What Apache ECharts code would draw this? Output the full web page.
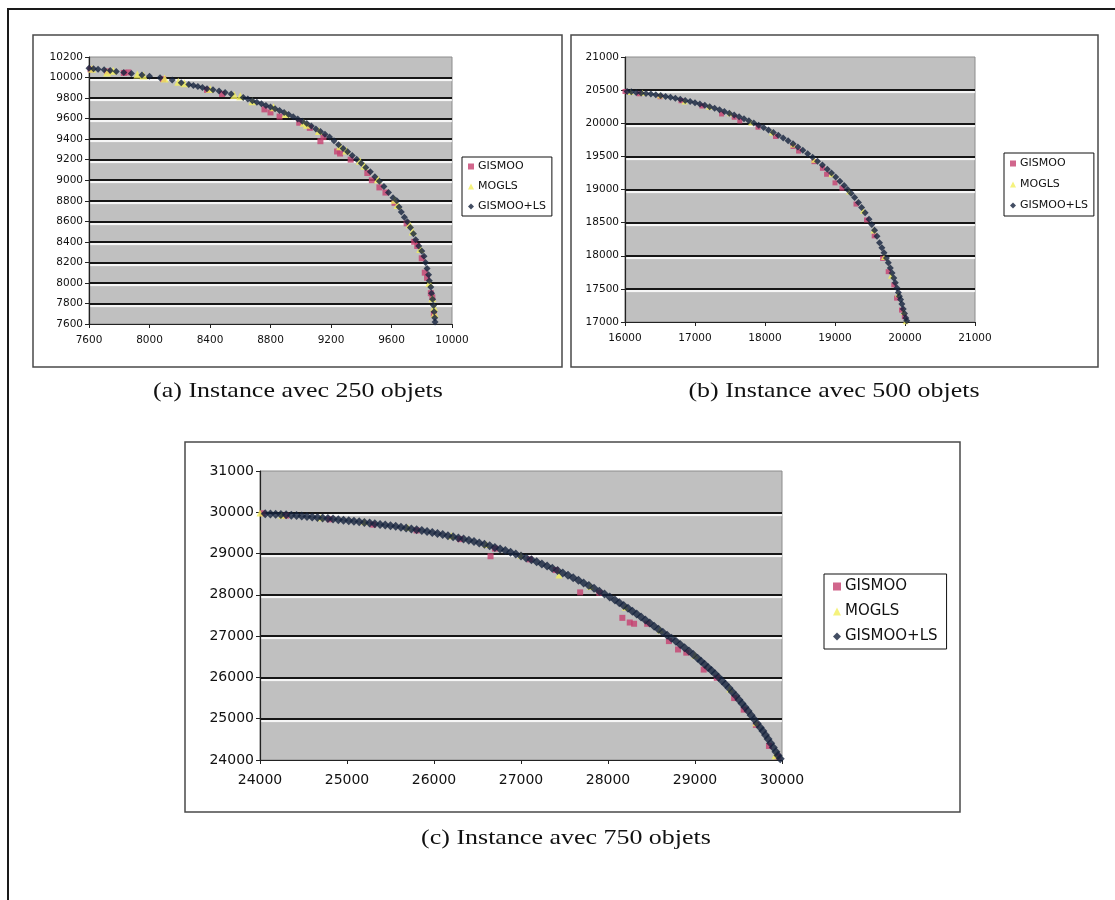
<!DOCTYPE html>
<html>
<head>
<meta charset="utf-8">
<script src="https://cdn.jsdelivr.net/npm/echarts@6/dist/echarts.min.js"></script>
<style>
html,body{margin:0;padding:0;background:#fff;}
#chart{width:1115px;height:900px;}
</style>
</head>
<body>
<div id="chart"></div>
<script>
// ---------- data ----------
const seriesNames = ['GISMOO', 'MOGLS', 'GISMOO+LS'];
const captions = ['(a) Instance avec 250 objets', '(b) Instance avec 500 objets', '(c) Instance avec 750 objets'];

// axis ranges [min, max, step]
const aXTicks = [7600, 10000, 400];
const aYTicks = [7600, 10200, 200];
const bXTicks = [16000, 21000, 1000];
const bYTicks = [17000, 21000, 500];
const cXTicks = [24000, 30000, 1000];
const cYTicks = [24000, 31000, 1000];

// (a) 250 objets
const aGismoo = [[7610,10080],[7720,10060],[7830,10045],[7860,10050],[8090,9985],[8380,9880],[8480,9840],[8760,9690],[8800,9660],[8860,9620],[8990,9560],[9060,9510],[9130,9380],[9150,9420],[9240,9280],[9260,9260],[9330,9200],[9440,9070],[9470,9000],[9520,8930],[9560,8880],[9620,8780],[9700,8580],[9750,8400],[9770,8360],[9800,8240],[9820,8100],[9835,8050],[9860,7900],[9870,7860],[9880,7700]];
const aMogls = [[7620,10085],[7720,10050],[7760,10065],[7920,10030],[7960,10020],[8100,9990],[8190,9960],[8230,9945],[8400,9888],[8560,9830],[8600,9818],[8680,9770],[8820,9710],[8900,9645],[9020,9560],[9040,9540],[9120,9480],[9260,9330],[9300,9290],[9390,9190],[9420,9140],[9510,9010],[9620,8810],[9640,8760],[9720,8570],[9740,8500],[9790,8330],[9850,8000],[9870,7850],[9882,7760],[9885,7700]];
const aGismooLs = [[7600,10090],[7630,10085],[7660,10080],[7700,10075],[7740,10068],[7780,10060],[7830,10050],[7880,10040],[7950,10025],[8000,10012],[8070,9998],[8150,9975],[8210,9950],[8260,9932],[8290,9922],[8320,9912],[8350,9902],[8380,9892],[8420,9880],[8460,9868],[8500,9855],[8540,9840],[8620,9805],[8650,9790],[8680,9775],[8710,9760],[8740,9745],[8770,9728],[8800,9712],[8830,9695],[8860,9678],[8890,9660],[8920,9640],[8950,9618],[8980,9596],[9010,9575],[9040,9552],[9070,9528],[9100,9500],[9130,9475],[9160,9448],[9190,9420],[9220,9385],[9250,9345],[9280,9310],[9310,9278],[9340,9242],[9370,9205],[9400,9165],[9430,9125],[9460,9082],[9490,9035],[9520,8990],[9550,8940],[9580,8880],[9610,8830],[9635,8800],[9650,8740],[9665,8690],[9685,8640],[9705,8595],[9725,8540],[9745,8480],[9760,8420],[9780,8360],[9800,8310],[9815,8260],[9825,8200],[9835,8140],[9845,8080],[9850,8020],[9860,7960],[9865,7900],[9872,7840],[9878,7780],[9882,7720],[9886,7660],[9888,7620]];

// (b) 500 objets
const bGismoo = [[16000,20480],[16200,20445],[16500,20400],[16800,20340],[17100,20260],[17380,20140],[17560,20090],[17640,20035],[17900,19940],[18150,19800],[18400,19650],[18480,19580],[18700,19420],[18820,19320],[18880,19230],[19000,19100],[19100,19020],[19300,18780],[19450,18540],[19560,18300],[19680,17960],[19760,17760],[19840,17560],[19880,17360],[19950,17180],[19990,17080]];
const bMogls = [[16080,20470],[16250,20460],[16500,20420],[16850,20330],[17200,20250],[17500,20150],[17800,20010],[18100,19860],[18400,19680],[18700,19450],[18950,19230],[19200,18970],[19400,18680],[19550,18380],[19700,17980],[19800,17700],[19900,17420],[19980,17150],[20010,17010]];
const bGismooLs = [[16030,20480],[16090,20475],[16160,20466],[16230,20458],[16300,20450],[16370,20440],[16440,20430],[16510,20418],[16580,20405],[16650,20392],[16720,20378],[16790,20362],[16860,20345],[16930,20328],[17000,20310],[17070,20290],[17140,20270],[17210,20248],[17280,20226],[17350,20203],[17420,20178],[17490,20152],[17560,20125],[17630,20097],[17700,20067],[17770,20036],[17840,20004],[17910,19970],[17980,19935],[18050,19898],[18120,19860],[18190,19820],[18260,19778],[18330,19735],[18400,19690],[18470,19642],[18540,19592],[18610,19540],[18680,19485],[18750,19428],[18820,19368],[18890,19305],[18950,19248],[19010,19188],[19070,19125],[19130,19060],[19180,19000],[19230,18945],[19280,18880],[19335,18803],[19380,18730],[19430,18650],[19486,18551],[19525,18470],[19565,18385],[19600,18295],[19636,18197],[19670,18120],[19700,18045],[19735,17965],[19762,17894],[19790,17815],[19815,17740],[19840,17665],[19862,17591],[19885,17515],[19905,17445],[19920,17390],[19937,17338],[19955,17270],[19975,17195],[19993,17130],[20012,17061],[20025,17020]];

// (c) 750 objets
const cGismoo = [[24030,29975],[24300,29920],[24800,29830],[25300,29700],[25800,29560],[26300,29350],[26650,28935],[26700,29120],[27100,28860],[27400,28600],[27680,28060],[27900,28050],[28165,27443],[28250,27330],[28300,27300],[28450,27300],[28700,26880],[28805,26677],[28900,26600],[29100,26190],[29250,25990],[29450,25500],[29560,25220],[29700,24850],[29850,24340],[29950,24080]];
const cMogls = [[24000,29985],[24250,29930],[24700,29870],[25200,29770],[25700,29630],[26200,29430],[26600,29220],[27000,28960],[27436,28480],[27800,28200],[28200,27700],[28600,27150],[29000,26540],[29400,25720],[29700,24900],[29920,24100]];
const cGismooLs = [[24060,29965],[24120,29958],[24180,29950],[24240,29945],[24300,29938],[24360,29930],[24420,29922],[24480,29910],[24540,29895],[24600,29886],[24660,29876],[24720,29862],[24780,29850],[24840,29838],[24900,29822],[24960,29808],[25020,29795],[25080,29782],[25140,29770],[25200,29752],[25260,29738],[25320,29722],[25380,29706],[25440,29692],[25500,29676],[25560,29660],[25620,29640],[25680,29618],[25740,29598],[25800,29578],[25860,29556],[25920,29532],[25980,29510],[26040,29485],[26100,29460],[26160,29434],[26220,29408],[26280,29380],[26340,29352],[26400,29320],[26460,29290],[26520,29258],[26580,29224],[26640,29188],[26700,29150],[26760,29112],[26820,29072],[26880,29032],[26940,28988],[27000,28942],[27060,28895],[27120,28848],[27180,28800],[27240,28750],[27300,28698],[27360,28645],[27420,28590],[27480,28532],[27540,28474],[27600,28415],[27660,28352],[27720,28290],[27780,28225],[27840,28158],[27900,28090],[27960,28020],[28020,27948],[28080,27875],[28130,27810],[28180,27742],[28230,27675],[28280,27605],[28330,27535],[28380,27465],[28430,27392],[28480,27318],[28530,27240],[28580,27168],[28630,27095],[28680,27022],[28730,26950],[28780,26875],[28830,26800],[28880,26720],[28930,26640],[28980,26556],[29030,26465],[29070,26390],[29110,26318],[29150,26240],[29190,26165],[29230,26088],[29270,26005],[29310,25920],[29350,25835],[29390,25745],[29430,25650],[29470,25555],[29505,25460],[29540,25370],[29575,25275],[29610,25185],[29645,25085],[29680,24985],[29715,24885],[29750,24790],[29780,24700],[29810,24605],[29840,24510],[29870,24405],[29900,24305],[29930,24200],[29955,24110],[29980,24030]];

// ---------- styling ----------
const COLORS = ['#c5406f', '#f3ef5c', '#14223c'];
const SYMBOLS = ['rect', 'triangle', 'diamond'];
const SANS = 'DejaVu Sans';

const panels = [
  {grid:{left:89, top:57, width:363, height:267}, x:aXTicks, y:aYTicks, data:[aGismoo,aMogls,aGismooLs],
   font:10.5, xMargin:11, sizes:[6,8,7], legend:{left:462, top:157, fs:11, gap:9, pad:[4,6,4,6], icon:6}},
  {grid:{left:625, top:57, width:350, height:265}, x:bXTicks, y:bYTicks, data:[bGismoo,bMogls,bGismooLs],
   font:10.5, xMargin:11, sizes:[5,6,7], legend:{left:1004, top:153, fs:11, gap:10, pad:[5,6,5,6], icon:6}},
  {grid:{left:260, top:471, width:522, height:289}, x:cXTicks, y:cYTicks, data:[cGismoo,cMogls,cGismooLs],
   font:14, xMargin:13, sizes:[6,7,9], legend:{left:824, top:574, fs:15, gap:10, pad:[5,9,5,9], icon:8}}
];

const grids = [], xAxes = [], yAxes = [], series = [], legends = [];
panels.forEach((p, i) => {
  grids.push(Object.assign({show:true, backgroundColor:'#c0c0c0', borderColor:'#8c8c8c', borderWidth:1}, p.grid));
  const axisBase = (t) => ({
    type:'value', gridIndex:i, min:t[0], max:t[1], interval:t[2],
    axisLine:{show:true, onZero:false, lineStyle:{color:'#222', width:1.2}},
    axisTick:{show:true, inside:false, length:4, lineStyle:{color:'#222'}},
    axisLabel:{color:'#111', fontFamily:SANS, fontSize:p.font, margin:6, formatter:(v)=>String(v)},
  });
  const xa = axisBase(p.x);
  xa.axisLabel.margin = p.xMargin;
  xa.splitLine = {show:false};
  xAxes.push(xa);
  const ya = axisBase(p.y);
  ya.splitLine = {show:true, showMinLine:false, showMaxLine:false,
    lineStyle:{color:'#161616', width:2, shadowColor:'rgba(255,255,255,0.95)', shadowBlur:1, shadowOffsetY:2}};
  yAxes.push(ya);
  p.data.forEach((d, k) => {
    series.push({
      type:'scatter', name:seriesNames[k], xAxisIndex:i, yAxisIndex:i, data:d,
      symbol:SYMBOLS[k], symbolSize:p.sizes[k], itemStyle:{color:COLORS[k]},
      emphasis:{disabled:true}, animation:false, z:2+k
    });
  });
  legends.push({
    orient:'vertical', left:p.legend.left, top:p.legend.top, data:seriesNames,
    backgroundColor:'#fff', borderColor:'#111', borderWidth:1, padding:p.legend.pad,
    itemGap:p.legend.gap, itemWidth:p.legend.icon, itemHeight:p.legend.icon,
    textStyle:{fontFamily:SANS, fontSize:p.legend.fs, color:'#111', padding:[0,0,0,-1]},
    selectedMode:false
  });
});

const panelBoxes = [[33,35,529,332],[571,35,527,332],[185,442,775,370]];
const captionPos = [[298,391],[834,391],[566,838]];

const graphics = [
  {type:'line', shape:{x1:7, y1:9, x2:1115, y2:9}, style:{stroke:'#1a1a1a', lineWidth:2}},
  {type:'line', shape:{x1:8, y1:9, x2:8, y2:900}, style:{stroke:'#1a1a1a', lineWidth:2}}
];
panelBoxes.forEach(b => graphics.push({type:'rect', shape:{x:b[0], y:b[1], width:b[2], height:b[3]},
  style:{fill:null, stroke:'#4a4a4a', lineWidth:1.5}, z:-1}));
captions.forEach((c, i) => graphics.push({type:'text', x:captionPos[i][0], y:captionPos[i][1], scaleX:1.18,
  style:{text:c, font:'22px "Liberation Serif"', fill:'#111', textAlign:'center', textVerticalAlign:'middle'}}));

const chart = echarts.init(document.getElementById('chart'), null, {renderer:'canvas'});
chart.setOption({
  animation:false,
  backgroundColor:'#ffffff',
  grid:grids, xAxis:xAxes, yAxis:yAxes, series:series, legend:legends,
  graphic:graphics
});
</script>
</body>
</html>
